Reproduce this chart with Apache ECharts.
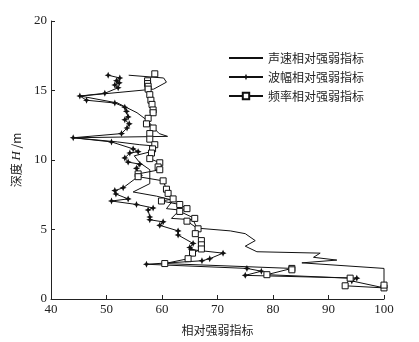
<!DOCTYPE html>
<html>
<head>
    <meta charset='utf-8' />
    <title>chart</title>
    <script src="https://cdn.jsdelivr.net/npm/echarts@6/dist/echarts.min.js"></script>
</head>
<body style='margin:0;width: 419px;height:342px;background:#fff;'>
<div id='main' style='width:419px;height: 342px;'></div>

<script type='text/javascript'>
    // 声速相对强弱指标 (value, depth)
    var speedVal = [54, 60.3, 60.8, 58.5, 45.3, 52, 55.5, 57.5, 58.5, 59.5, 61, 44, 52, 56, 59, 58, 55, 56, 57.8, 57.8, 54.8, 59, 62, 60.8, 63.2, 61.7, 65.6, 66.3, 72.3, 75, 76.8, 75, 77.1, 88.5, 87.3, 91.5, 85.2, 100, 100];
    var speedDepth = [16.1, 15.9, 15.6, 15.1, 14.6, 14.1, 13.4, 12.8, 12.3, 11.9, 11.7, 11.6, 11.3, 11.1, 11.0, 10.6, 10.3, 9.8, 9.3, 8.3, 7.7, 7.4, 7.1, 6.5, 6.4, 5.8, 5.7, 5.1, 4.9, 4.7, 4.2, 3.8, 3.4, 3.3, 3.0, 2.8, 2.6, 2.2, 0.65];

    // 波幅相对强弱指标
    var ampVal = [50.3, 52.4, 51.8, 52.3, 51.5, 52.1, 49.7, 45.2, 46.4, 51.5, 53.3, 53.6, 53.9, 53.3, 54.1, 53.7, 52.7, 44, 50.9, 54.8, 55.7, 54.2, 53.3, 53.9, 56, 55.4, 56, 53, 51.5, 51.7, 53.9, 50.9, 55.4, 58.4, 57.5, 57.8, 57.8, 60.2, 59.6, 62.9, 62.9, 65.6, 65, 65.3, 71, 68.6, 67.2, 57.2, 75.3, 77.9, 75, 95.1, 94.2, 100];
    var ampDepth = [16.1, 15.9, 15.7, 15.55, 15.4, 15.2, 14.8, 14.6, 14.3, 14.1, 13.8, 13.5, 13.1, 12.9, 12.6, 12.3, 11.9, 11.6, 11.3, 10.8, 10.6, 10.5, 10.15, 9.85, 9.7, 9.4, 8.9, 8.0, 7.8, 7.55, 7.2, 7.05, 6.8, 6.55, 6.4, 5.9, 5.7, 5.55, 5.3, 4.9, 4.6, 4.0, 3.7, 3.55, 3.3, 2.9, 2.75, 2.5, 2.2, 2.0, 1.7, 1.5, 1.3, 0.8];

    // 频率相对强弱指标
    var freqVal = [58.7, 57.4, 57.4, 57.5, 57.5, 57.8, 58, 58.2, 58.4, 58.4, 57.5, 57.2, 58.4, 57.8, 57.8, 58.7, 58.3, 58.1, 57.8, 59.6, 59.3, 59.6, 55.7, 55.7, 60.2, 60.8, 61.1, 62, 59.9, 63.2, 64.5, 63.2, 65.9, 64.5, 66.5, 66, 67.1, 67.1, 67.1, 65.5, 64.7, 60.5, 83.4, 83.4, 78.9, 93.9, 93, 100, 100];
    var freqDepth = [16.2, 15.7, 15.5, 15.3, 15.1, 14.7, 14.3, 14.0, 13.6, 13.4, 13.0, 12.6, 12.3, 11.9, 11.5, 11.1, 10.8, 10.5, 10.1, 9.8, 9.5, 9.3, 9.0, 8.8, 8.5, 7.9, 7.6, 7.2, 7.05, 6.8, 6.5, 6.3, 5.8, 5.6, 5.05, 4.7, 4.2, 3.9, 3.6, 3.3, 2.9, 2.55, 2.2, 2.1, 1.75, 1.5, 0.95, 0.8, 1.0];

    var xTicks = [40, 50, 60, 70, 80, 90, 100];
    var names = ['声速相对强弱指标', '波幅相对强弱指标', '频率相对强弱指标'];

    function pairs(v, d) {
        return v.map(function (x, i) { return [x, d[i]]; });
    }

    var starPath = 'path://M0,-10 L3,-3 L10,0 L3,3 L0,10 L-3,3 L-10,0 L-3,-3 Z';
    var cjk = '"Noto Sans CJK SC", sans-serif';
    var serif = '"Liberation Serif", "DejaVu Serif", serif';

    var option = {
        animation: false,
        grid: { left: 51, right: 35, top: 21, bottom: 43 },
        legend: {
            orient: 'vertical',
            left: 223,
            top: 47,
            itemWidth: 34,
            itemHeight: 8,
            itemGap: 7,
            textStyle: { fontFamily: cjk, fontSize: 12, color: '#222' },
            data: [
                { name: names[0], itemStyle: { opacity: 0 } },
                { name: names[1] },
                { name: names[2] }
            ]
        },
        xAxis: {
            type: 'value',
            min: 40,
            max: 100,
            interval: 10,
            name: '相对强弱指标',
            nameLocation: 'middle',
            nameGap: 25,
            nameTextStyle: { fontFamily: cjk, fontSize: 12, color: '#222' },
            axisLine: { lineStyle: { color: '#222', width: 1 } },
            axisTick: { inside: true, length: 4, lineStyle: { color: '#222' } },
            axisLabel: {
                fontFamily: serif, fontSize: 13, color: '#222', margin: 4,
                formatter: function (v) { return xTicks.indexOf(v) >= 0 ? String(v) : ''; }
            },
            splitLine: { show: false }
        },
        yAxis: {
            type: 'value',
            min: 0,
            max: 20,
            interval: 5,
            name: '{n|深度 }{h|H}{n| /m}',
            nameLocation: 'middle',
            nameRotate: 90,
            nameGap: 25,
            nameTextStyle: {
                rich: {
                    n: { fontFamily: cjk, fontSize: 12, color: '#222' },
                    h: { fontFamily: serif, fontStyle: 'italic', fontSize: 13, color: '#222' }
                }
            },
            axisLine: { show: true, lineStyle: { color: '#222', width: 1 } },
            axisTick: { show: true, inside: true, length: 4, lineStyle: { color: '#222' } },
            axisLabel: { fontFamily: serif, fontSize: 13, color: '#222', margin: 4 },
            splitLine: { show: false }
        },
        series: [
            {
                name: names[0],
                type: 'line',
                data: pairs(speedVal, speedDepth),
                showSymbol: false,
                symbol: 'none',
                lineStyle: { color: '#111', width: 1 },
                itemStyle: { color: '#111' }
            },
            {
                name: names[1],
                type: 'line',
                data: pairs(ampVal, ampDepth),
                symbol: starPath,
                symbolSize: 7,
                lineStyle: { color: '#111', width: 1 },
                itemStyle: { color: '#111' }
            },
            {
                name: names[2],
                type: 'line',
                data: pairs(freqVal, freqDepth),
                symbol: 'rect',
                symbolSize: 6,
                lineStyle: { color: '#111', width: 1 },
                itemStyle: { color: '#fff', borderColor: '#111', borderWidth: 1 }
            }
        ]
    };

    var myChart = echarts.init(document.getElementById('main'));
    myChart.setOption(option);
</script>
</body>
</html>
